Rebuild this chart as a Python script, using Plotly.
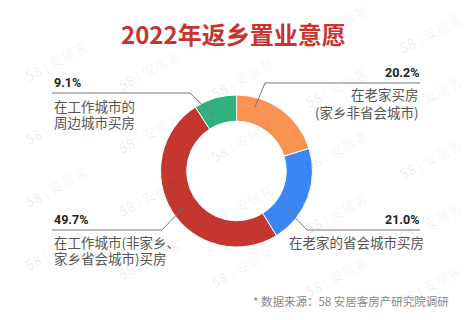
import plotly.graph_objects as go

W, H = 475, 320

# ---- data ----
categories = ["在老家买房（家乡非省会城市）", "在老家的省会城市买房",
              "在工作城市（非家乡、家乡省会城市）买房", "在工作城市的周边城市买房"]
values = [20.2, 21.0, 49.7, 9.1]
pct_labels = ["20.2%", "21.0%", "49.7%", "9.1%"]
label_lines = [["在老家买房", "(家乡非省会城市)"],
               ["在老家的省会城市买房"],
               ["在工作城市(非家乡、", "家乡省会城市)买房"],
               ["在工作城市的", "周边城市买房"]]
colors = ["#FA9252", "#3A86F5", "#C43630", "#2EB17D"]

CJK = "Noto Sans CJK SC"


def px(x):
    return x / W


def py(y):
    return 1 - y / H


cx, cy, R = 236.5, 171, 76

fig = go.Figure()
fig.add_trace(go.Pie(
    labels=categories, values=values, sort=False, direction="clockwise",
    rotation=0, hole=0.655, textinfo="none", hoverinfo="label+value",
    marker=dict(colors=colors, line=dict(color="white", width=1)),
    domain=dict(x=[px(cx - R), px(cx + R)], y=[py(cy + R), py(cy - R)]),
    showlegend=False,
))

annotations = []
shapes = []

# watermarks (drawn first so labels sit on top)
for c in range(0, 6):
    for r in range(0, 6):
        x0 = 25 + 93.5 * c
        y0 = 12 + 63 * r + 8.7 * c
        mx, my = x0 + 31, y0 - 14
        if mx < 30 or mx > W - 30 or my < 22 or my > H - 18:
            continue
        annotations.append(dict(text="<b>58</b> | 安居客", x=px(mx), y=py(my),
                                xref="paper", yref="paper", showarrow=False,
                                xanchor="center", yanchor="middle", textangle=-28,
                                font=dict(family=CJK, size=14, color="rgba(0,0,0,0.06)")))

# title
annotations.append(dict(text="<b>2022年返乡置业意愿</b>", x=px(233), y=py(33),
                        xref="paper", yref="paper", showarrow=False,
                        xanchor="center", yanchor="middle",
                        font=dict(family=CJK, size=24, color="#C8342E")))

# label layout
layout_info = [
    dict(x=421, anchor="right", py_=72, ty=[94, 112], dx=0,
         pts=[(420, 83), (265, 83), (255, 107)]),
    dict(x=421, anchor="right", py_=219, ty=[242], dx=5,
         pts=[(420, 230), (307, 230), (288, 210)]),
    dict(x=52, anchor="left", py_=219, ty=[242, 258], dx=0,
         pts=[(52, 230), (162, 230), (183, 208)]),
    dict(x=52, anchor="left", py_=82, ty=[106, 122], dx=0,
         pts=[(52, 93), (190, 93), (213, 115)]),
]

for i, info in enumerate(layout_info):
    annotations.append(dict(text="<b>" + pct_labels[i] + "</b>", x=px(info["x"]),
                            y=py(info["py_"]), xref="paper", yref="paper",
                            showarrow=False, xanchor=info["anchor"], yanchor="middle",
                            font=dict(family="Roboto", size=12.5, color="#222")))
    for line, ty in zip(label_lines[i], info["ty"]):
        annotations.append(dict(text=line, x=px(info["x"] + info["dx"]), y=py(ty),
                                xref="paper", yref="paper", showarrow=False,
                                xanchor=info["anchor"], yanchor="middle",
                                font=dict(family=CJK, size=13.5, color="#555")))
    pts = info["pts"]
    path = "M {} {}".format(px(pts[0][0]), py(pts[0][1]))
    for (a, b) in pts[1:]:
        path += " L {} {}".format(px(a), py(b))
    shapes.append(dict(type="path", path=path, xref="paper", yref="paper",
                       line=dict(color="#777", width=1)))

# footer
annotations.append(dict(text="* 数据来源：58 安居客房产研究院调研", x=px(451), y=py(301),
                        xref="paper", yref="paper", showarrow=False,
                        xanchor="right", yanchor="middle",
                        font=dict(family=CJK, size=11.5, color="#888")))

fig.update_layout(
    width=W, height=H, margin=dict(l=0, r=0, t=0, b=0),
    paper_bgcolor="white", plot_bgcolor="white",
    annotations=annotations, shapes=shapes,
)

fig.write_html("out.html")
